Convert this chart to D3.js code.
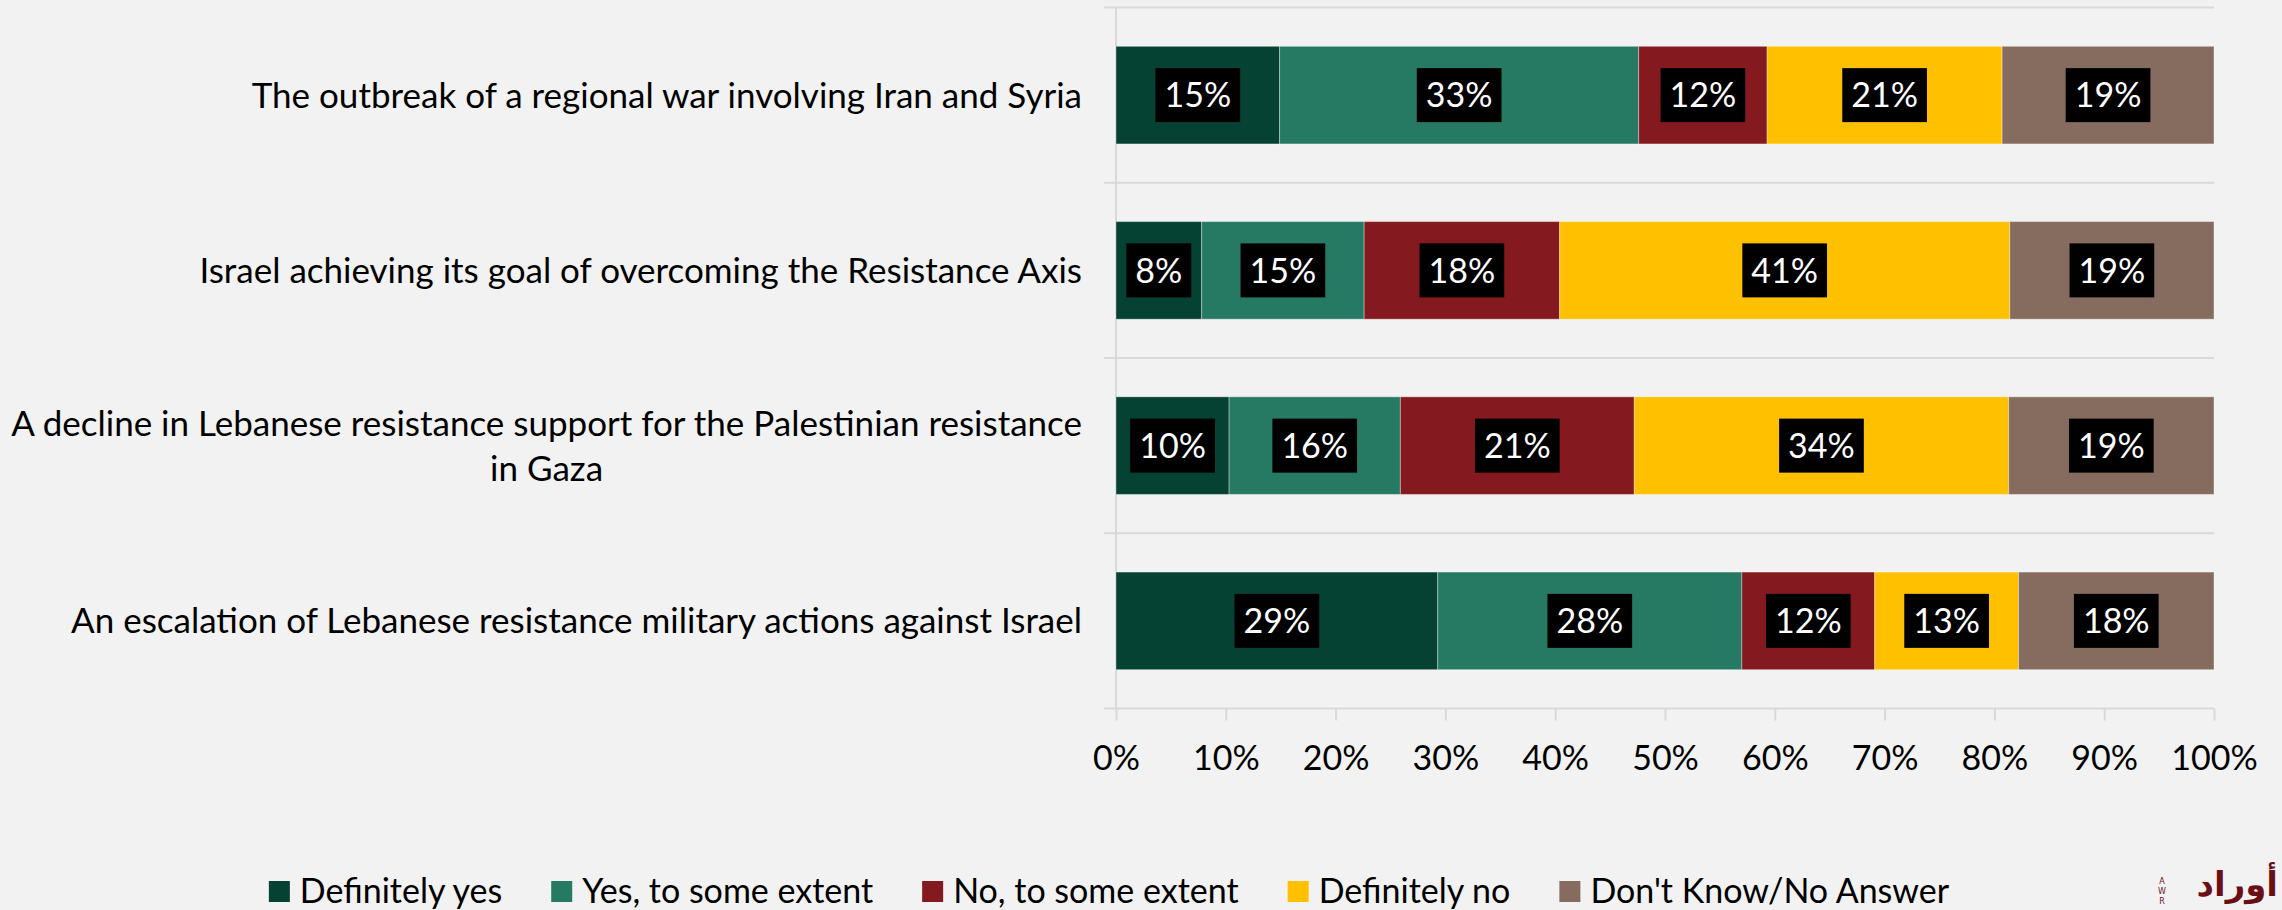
<!DOCTYPE html>
<html>
<head>
<meta charset="utf-8">
<script src="https://cdn.jsdelivr.net/npm/d3@7"></script>
<style>
  body { margin: 0; background: #f2f2f2; }
  svg { display: block; font-family: Lato, "Open Sans", sans-serif; }
</style>
</head>
<body>
<svg width="2282" height="910"></svg>
<script>
var categories = [
    "The outbreak of a regional war involving Iran and Syria",
    "Israel achieving its goal of overcoming the Resistance Axis",
    "A decline in Lebanese resistance support for the Palestinian resistance\nin Gaza",
    "An escalation of Lebanese resistance military actions against Israel"
];
var seriesNames = ["Definitely yes", "Yes, to some extent", "No, to some extent", "Definitely no", "Don't Know/No Answer"];
var definitelyYes = [14.9, 7.8, 10.3, 29.3];
var yesSomeExtent = [32.7, 14.8, 15.6, 27.7];
var noSomeExtent = [11.7, 17.8, 21.3, 12.1];
var definitelyNo = [21.4, 41.0, 34.1, 13.1];
var dontKnow = [19.3, 18.6, 18.7, 17.8];
var tickValues = [0, 10, 20, 30, 40, 50, 60, 70, 80, 90, 100];
var colors = ["#064233", "#267a63", "#841a1f", "#ffc000", "#866c5f"];

var fontSize = 34;
var catFontSize = 35;
var svg = d3.select("svg"),
    width = +svg.attr("width"),
    height = +svg.attr("height");

var seriesValues = [definitelyYes, yesSomeExtent, noSomeExtent, definitelyNo, dontKnow];
var rows = categories.map(function (c, i) {
    var r = { cat: c };
    seriesNames.forEach(function (s, j) { r[s] = seriesValues[j][i]; });
    return r;
});

var x = d3.scaleLinear().domain([0, 100]).range([1116, 2214]);
var y = d3.scaleBand().domain(categories).range([7.5, 708.5])
    .paddingInner(0.443).paddingOuter(0.2215);

svg.append("rect").attr("width", width).attr("height", height).attr("fill", "#f2f2f2");

// category boundary gridlines (with small ticks left of the axis)
var step = y.step();
var bounds = d3.range(categories.length + 1).map(function (i) { return 7.5 + i * step; });
svg.append("g").selectAll("line")
    .data(bounds)
    .enter().append("line")
    .attr("x1", x(0) - 12).attr("x2", x(100))
    .attr("y1", d => d).attr("y2", d => d)
    .attr("stroke", "#d9d9d9").attr("stroke-width", 2);

// vertical axis line
svg.append("line")
    .attr("x1", x(0)).attr("x2", x(0))
    .attr("y1", bounds[0]).attr("y2", bounds[bounds.length - 1])
    .attr("stroke", "#d9d9d9").attr("stroke-width", 2);

// x axis
var xAxis = svg.append("g")
    .attr("transform", "translate(0," + bounds[bounds.length - 1] + ")")
    .call(d3.axisBottom(x).tickValues(tickValues).tickSize(12).tickPadding(25)
        .tickFormat(d => d + "%"));
xAxis.select(".domain").remove();
xAxis.selectAll(".tick line").attr("stroke", "#d9d9d9").attr("stroke-width", 2);
xAxis.selectAll(".tick text")
    .attr("font-size", fontSize).attr("font-family", "Lato, sans-serif").attr("fill", "#000");

// stacked bars
var stack = d3.stack().keys(seriesNames)(rows);
var layers = svg.append("g").selectAll("g")
    .data(stack)
    .enter().append("g")
    .attr("fill", (d, i) => colors[i]);

layers.selectAll("rect")
    .data(d => d)
    .enter().append("rect")
    .attr("x", d => x(d[0]))
    .attr("y", d => y(d.data.cat))
    .attr("width", d => x(d[1]) - x(d[0]))
    .attr("height", y.bandwidth())
    .attr("stroke", "rgba(255,255,255,0.35)")
    .attr("stroke-width", 1);

// data labels with black boxes
var labels = svg.append("g").selectAll("g")
    .data(stack.flatMap(s => s))
    .enter().append("g")
    .attr("transform", d => "translate(" + (x(d[0]) + x(d[1])) / 2 + "," + (y(d.data.cat) + y.bandwidth() / 2) + ")");

labels.append("rect").attr("fill", "#000");
labels.append("text")
    .attr("text-anchor", "middle")
    .attr("y", fontSize * 0.36)
    .attr("font-size", fontSize)
    .attr("fill", "#fff")
    .text(d => Math.round(d[1] - d[0]) + "%");
labels.each(function () {
    var g = d3.select(this);
    var w = g.select("text").node().getComputedTextLength();
    g.select("rect").attr("x", -w / 2 - 9).attr("y", -27).attr("width", w + 18).attr("height", 54);
});

// category labels
var lineHeight = 45;
svg.append("g").selectAll("text")
    .data(categories)
    .enter().append("text")
    .attr("font-size", catFontSize)
    .attr("fill", "#000")
    .each(function (c) {
        var lines = c.split("\n");
        var t = d3.select(this);
        var cy = y(c) + y.bandwidth() / 2;
        var base = cy + catFontSize * 0.36 - (lines.length - 1) * lineHeight / 2;
        if (lines.length === 1) {
            t.attr("text-anchor", "end").attr("x", 1082).attr("y", base).text(c);
        } else {
            t.attr("text-anchor", "middle");
            lines.forEach(function (l, k) {
                t.append("tspan").attr("x", 0).attr("y", base + k * lineHeight).text(l);
            });
            var w = d3.max(t.selectAll("tspan").nodes(), n => n.getComputedTextLength());
            t.selectAll("tspan").attr("x", 1082 - w / 2);
        }
    });

// legend
var legend = svg.append("g");
var items = legend.selectAll("g")
    .data(seriesNames)
    .enter().append("g");
items.append("rect").attr("width", 21).attr("height", 21).attr("y", 881)
    .attr("fill", (d, i) => colors[i]);
items.append("text").attr("x", 31).attr("y", 903)
    .attr("font-size", fontSize).attr("fill", "#000").text(d => d);
var widths = [];
items.each(function () { widths.push(31 + d3.select(this).select("text").node().getComputedTextLength()); });
var total = d3.sum(widths) + 49 * (widths.length - 1);
var lx = 1109 - total / 2;
items.attr("transform", function (d, i) {
    var t = "translate(" + lx + ",0)";
    lx += widths[i] + 49;
    return t;
});

// logo mark, bottom right
var logo = svg.append("g").attr("fill", "#6b0f17");
logo.selectAll("text.l")
    .data(["A", "W", "R"])
    .enter().append("text")
    .attr("x", 2162).attr("y", (d, i) => 884 + i * 10)
    .attr("font-size", 8).attr("text-anchor", "middle")
    .attr("font-family", "DejaVu Sans, sans-serif")
    .text(d => d);
logo.append("text")
    .attr("x", 2278).attr("y", 896)
    .attr("text-anchor", "end")
    .attr("font-size", 34).attr("font-weight", "bold")
    .attr("font-family", "DejaVu Sans, sans-serif")
    .text("أوراد");
</script>
</body>
</html>
